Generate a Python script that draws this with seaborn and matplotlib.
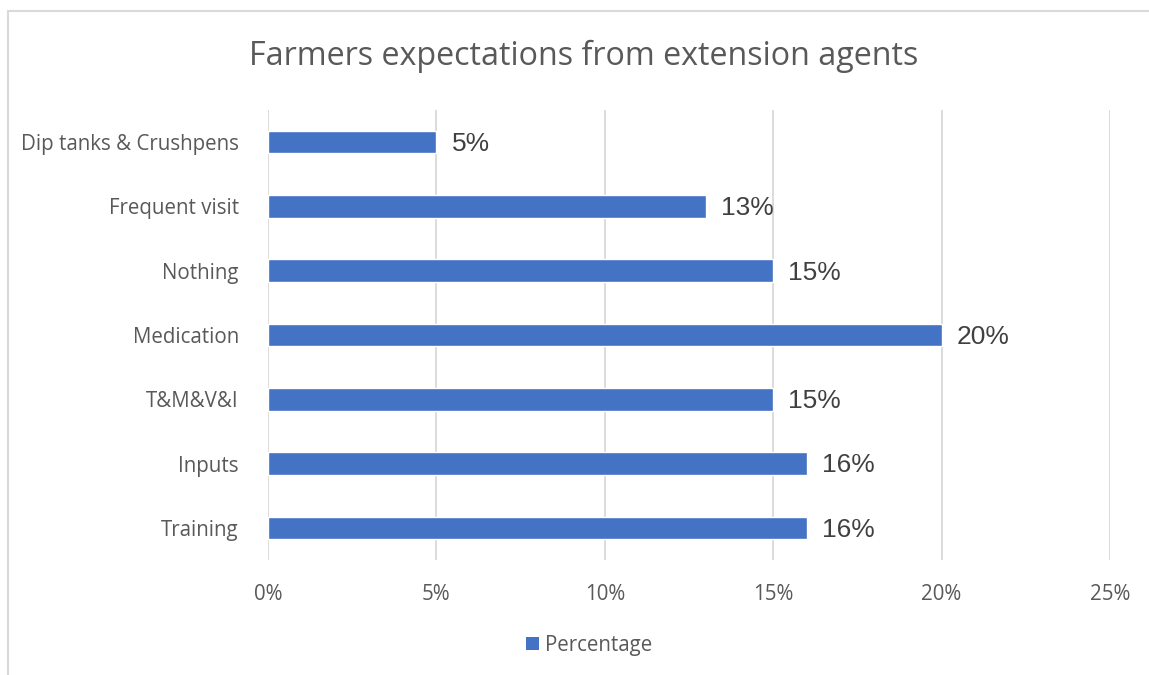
import matplotlib
matplotlib.use("Agg")
import matplotlib.pyplot as plt
import seaborn as sns
import pandas as pd
from matplotlib.lines import Line2D
from matplotlib.patches import Patch

categories = ["Dip tanks & Crushpens", "Frequent visit", "Nothing", "Medication",
              "T&M&V&I", "Inputs", "Training"]
percentages = [5, 13, 15, 20, 15, 16, 16]
x_ticks = [0, 5, 10, 15, 20, 25]
x_tick_labels = ["0%", "5%", "10%", "15%", "20%", "25%"]
title = "Farmers expectations from extension agents"
series_name = "Percentage"

BAR_COLOR = "#4472C4"
TEXT_GREY = "#595959"
GRID_GREY = "#D9D9D9"

sns.set_theme(style="white")
plt.rcParams["font.family"] = ["Open Sans", "DejaVu Sans"]

df = pd.DataFrame({"category": categories, "value": percentages})

fig = plt.figure(figsize=(11.49, 6.75), dpi=100)
W, H = 1149, 675
ax = fig.add_axes([268 / W, 1 - 560 / H, (1110 - 268) / W, (560 - 110) / H])

sns.barplot(data=df, x="value", y="category", orient="h", color=BAR_COLOR,
            width=0.35, saturation=1, ax=ax, zorder=3)

ax.set_xlim(0, 25)
ax.set_ylim(len(categories) - 0.5, -0.5)
ax.set_xticks(x_ticks)
ax.set_xticklabels(x_tick_labels)
ax.set_xlabel("")
ax.set_ylabel("")
ax.grid(axis="x", color=GRID_GREY, linewidth=1.3, zorder=0)
ax.grid(axis="y", visible=False)
for s in ax.spines.values():
    s.set_visible(False)
ax.tick_params(axis="both", length=0, labelsize=14.8, labelcolor=TEXT_GREY)
ax.tick_params(axis="x", pad=17)
ax.tick_params(axis="y", pad=21)

for i, v in enumerate(percentages):
    ax.text(v + 0.45, i + 0.03, f"{v}%", va="center", ha="left",
            fontsize=19, color="#404040", family=["Liberation Sans", "DejaVu Sans"])

fig.text(584 / W, 1 - 56 / H, title, ha="center", va="center",
         fontsize=23.2, color=TEXT_GREY)

handles = [Patch(facecolor=BAR_COLOR, edgecolor="none", label=series_name)]
fig.legend(handles=handles, loc="center", bbox_to_anchor=(589 / W, 1 - 645 / H),
           frameon=False, fontsize=14.8, handlelength=0.62, handleheight=0.62,
           handletextpad=0.3, labelcolor=TEXT_GREY)

# chart area border (left and top edges)
fig.add_artist(Line2D([8 / W, 8 / W], [0, 1 - 11 / H], transform=fig.transFigure,
                      color=GRID_GREY, linewidth=1.5))
fig.add_artist(Line2D([8 / W, 1], [1 - 11 / H, 1 - 11 / H], transform=fig.transFigure,
                      color=GRID_GREY, linewidth=1.5))

fig.savefig("out.png", dpi=100, facecolor="white")
